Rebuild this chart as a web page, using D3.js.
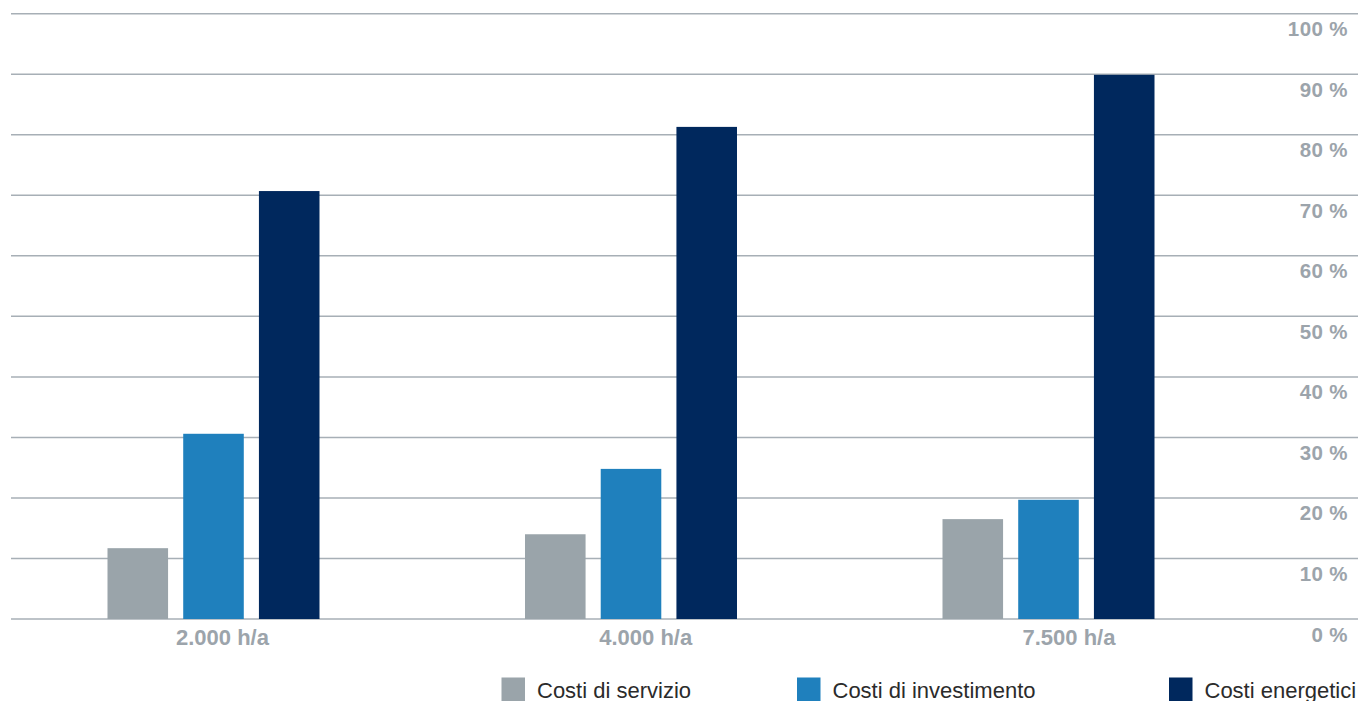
<!DOCTYPE html>
<html><head><meta charset="utf-8">
<script src="https://cdn.jsdelivr.net/npm/d3@7/dist/d3.min.js"></script>
<style>html,body{margin:0;padding:0;background:#fff;overflow:hidden}</style>
</head><body>
<svg id="chart" width="1360" height="701"></svg>
<script>
const categories = ["2.000 h/a", "4.000 h/a", "7.500 h/a"];
const seriesNames = ["Costi di servizio", "Costi di investimento", "Costi energetici"];
const serviceCosts = [11.7, 14.0, 16.5];
const investmentCosts = [30.6, 24.8, 19.7];
const energyCosts = [70.7, 81.3, 89.9];
const yTicks = [0, 10, 20, 30, 40, 50, 60, 70, 80, 90, 100];
const colors = ["#9aa4aa", "#1f80bd", "#00285d"];

const series = [serviceCosts, investmentCosts, energyCosts];
const svg = d3.select("#chart");

const y = d3.scaleLinear().domain([0, 100]).range([619, 13.7]);
const xc = d3.scalePoint().domain(categories).range([213.5, 1048.5]);
const xs = d3.scaleBand().domain(seriesNames).range([-106, 106]).paddingInner(0.2);
const xl = d3.scalePoint().domain(categories).range([222.5, 1069]);

const grid = svg.append("g");
grid.selectAll("line").data(yTicks).join("line")
  .attr("x1", 11).attr("x2", 1358)
  .attr("y1", d => y(d)).attr("y2", d => y(d))
  .attr("stroke", "#a7afb6").attr("stroke-width", 1.5);

svg.append("g").selectAll("text").data(yTicks).join("text")
  .attr("x", 1348).attr("y", d => y(d) + 22.5)
  .attr("text-anchor", "end")
  .attr("font-family", "Liberation Sans, Arial, sans-serif")
  .attr("font-weight", "bold").attr("font-size", 20.5)
  .attr("letter-spacing", 0.4)
  .attr("fill", "#9ca4ab")
  .text(d => d + " %");

const groups = svg.append("g").selectAll("g").data(categories).join("g")
  .attr("transform", c => `translate(${xc(c)},0)`);
groups.selectAll("rect").data((c, i) => series.map((s, k) => ({name: seriesNames[k], v: s[i], k})))
  .join("rect")
  .attr("x", d => xs(d.name)).attr("width", xs.bandwidth())
  .attr("y", d => y(d.v)).attr("height", d => y(0) - y(d.v))
  .attr("fill", d => colors[d.k]);

svg.append("g").selectAll("text").data(categories).join("text")
  .attr("x", c => xl(c)).attr("y", 645)
  .attr("text-anchor", "middle")
  .attr("font-family", "Liberation Sans, Arial, sans-serif")
  .attr("font-weight", "bold").attr("font-size", 22)
  .attr("fill", "#9ca4ab")
  .text(c => c);

const legendX = [501.5, 797, 1169];
const leg = svg.append("g").selectAll("g").data(seriesNames).join("g")
  .attr("transform", (d, i) => `translate(${legendX[i]},677.5)`);
leg.append("rect").attr("width", 23.5).attr("height", 24).attr("fill", (d, i) => colors[i]);
leg.append("text").attr("x", 35.5).attr("y", 20)
  .attr("font-family", "Liberation Sans, Arial, sans-serif")
  .attr("font-size", 22).attr("fill", "#2b2b2b")
  .text(d => d);
</script>
</body></html>
